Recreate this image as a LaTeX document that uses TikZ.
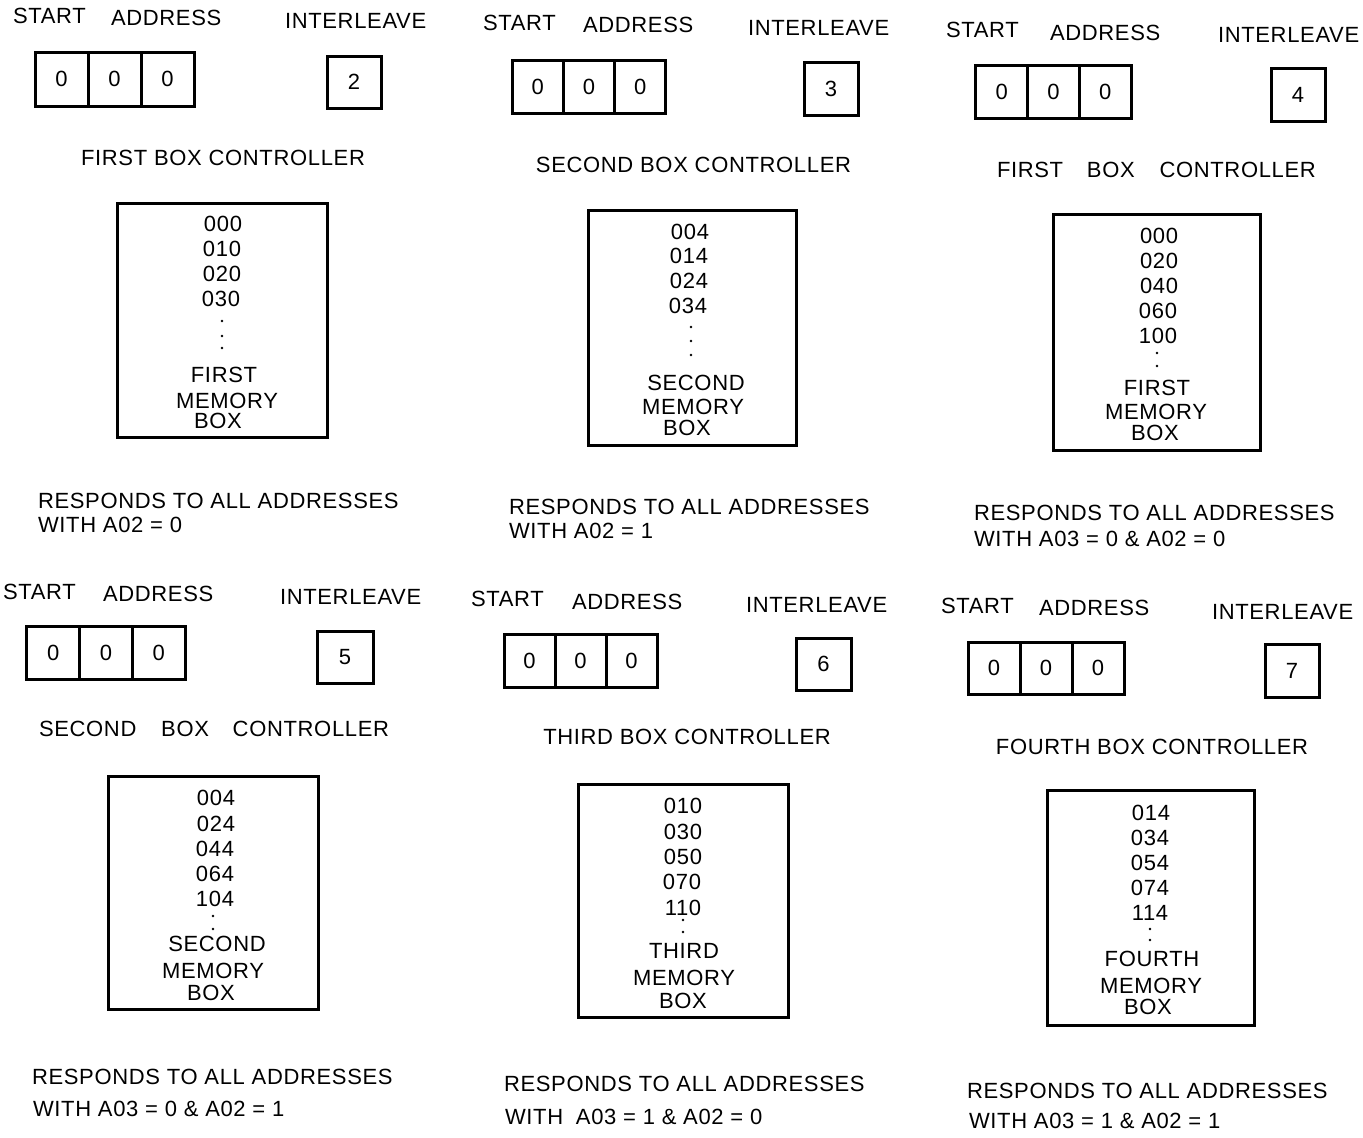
\documentclass[tikz,border=0pt]{standalone}
\usepackage{fontspec}
\newfontfamily\labfont[LetterSpace=3]{Liberation Sans}
\begin{document}
\begin{tikzpicture}[x=1pt,y=-1pt,
  lbl/.style={inner sep=0pt, outer sep=0pt, font=\labfont\fontsize{22}{25}\selectfont, text height=15.75pt, text depth=0pt},
  lw/.style={lbl, anchor=west},
  cellbox/.style={draw, line width=3pt, inner sep=0pt, outer sep=0pt, font=\labfont\fontsize{22}{25}\selectfont, text height=15.75pt, text depth=0pt},
  membox/.style={draw, line width=3pt, inner sep=0pt, outer sep=0pt},
  dotmark/.style={fill=black}]
\useasboundingbox (0,0) rectangle (1363,1138);

% ---------------- Panel 1 ----------------
\node[lw] (p1start) at (13,16) {START};
\node[lw] (p1addr) at (111,18) {ADDRESS};
\node[lw] (p1intl) at (285,21) {INTERLEAVE};
\node[cellbox, minimum width=53pt, minimum height=54pt] (p1c1) at (61.5,79) {0};
\node[cellbox, minimum width=53pt, minimum height=54pt] (p1c2) at (114.5,79) {0};
\node[cellbox, minimum width=53pt, minimum height=54pt] (p1c3) at (167.5,79) {0};
\node[cellbox, minimum width=54pt, minimum height=52pt] (p1ib) at (354,82) {2};
\node[lbl] (p1ctl) at (223,158) {FIRST BOX CONTROLLER};
\node[membox, minimum width=210pt, minimum height=234pt] (p1mem) at (222,320) {};
\node[lbl] (p1a) at (223,224) {000};
\node[lbl] (p1b) at (222,249) {010};
\node[lbl] (p1c) at (222,274) {020};
\node[lbl] (p1d) at (221,299) {030};
\fill[dotmark] (222,321) circle (1.4) (222,336) circle (1.4) (222,348) circle (1.4);
\node[lbl] (p1n1) at (224,375) {FIRST};
\node[lbl] (p1n2) at (227,401) {MEMORY};
\node[lbl] (p1n3) at (218,421) {BOX};
\node[lw] (p1resp) at (38,501) {RESPONDS TO ALL ADDRESSES};
\node[lw] (p1with) at (38,525) {WITH A02 = 0};

% ---------------- Panel 2 ----------------
\node[lw] (p2start) at (483,23) {START};
\node[lw] (p2addr) at (583,25) {ADDRESS};
\node[lw] (p2intl) at (748,28) {INTERLEAVE};
\node[cellbox, minimum width=51.3pt, minimum height=53pt] (p2c1) at (537.7,86.5) {0};
\node[cellbox, minimum width=51.3pt, minimum height=53pt] (p2c2) at (589,86.5) {0};
\node[cellbox, minimum width=51.3pt, minimum height=53pt] (p2c3) at (640.3,86.5) {0};
\node[cellbox, minimum width=54pt, minimum height=53pt] (p2ib) at (831,88.5) {3};
\node[lbl] (p2ctl) at (693.5,165) {SECOND BOX CONTROLLER};
\node[membox, minimum width=208pt, minimum height=235pt] (p2mem) at (692,327.5) {};
\node[lbl] (p2a) at (690,232) {004};
\node[lbl] (p2b) at (689,256) {014};
\node[lbl] (p2c) at (689,281) {024};
\node[lbl] (p2d) at (688,306) {034};
\fill[dotmark] (691,327) circle (1.4) (691,341) circle (1.4) (691,355) circle (1.4);
\node[lbl] (p2n1) at (696,383) {SECOND};
\node[lbl] (p2n2) at (693,407) {MEMORY};
\node[lbl] (p2n3) at (687,428) {BOX};
\node[lw] (p2resp) at (509,507) {RESPONDS TO ALL ADDRESSES};
\node[lw] (p2with) at (509,531) {WITH A02 = 1};

% ---------------- Panel 3 ----------------
\node[lw] (p3start) at (946,30) {START};
\node[lw] (p3addr) at (1050,33) {ADDRESS};
\node[lw] (p3intl) at (1218,35) {INTERLEAVE};
\node[cellbox, minimum width=51.7pt, minimum height=53pt] (p3c1) at (1001.8,91.5) {0};
\node[cellbox, minimum width=51.7pt, minimum height=53pt] (p3c2) at (1053.5,91.5) {0};
\node[cellbox, minimum width=51.7pt, minimum height=53pt] (p3c3) at (1105.2,91.5) {0};
\node[cellbox, minimum width=54pt, minimum height=53pt] (p3ib) at (1298,94.5) {4};
\node[lw] (p3ctl) at (997,170) {FIRST\hspace{17pt} BOX\hspace{18pt} CONTROLLER};
\node[membox, minimum width=207pt, minimum height=236pt] (p3mem) at (1156.5,332) {};
\node[lbl] (p3a) at (1159,236) {000};
\node[lbl] (p3b) at (1159,261) {020};
\node[lbl] (p3c) at (1159,286) {040};
\node[lbl] (p3d) at (1158,311) {060};
\node[lbl] (p3e) at (1158,336) {100};
\fill[dotmark] (1157,353) circle (1.4) (1157,366) circle (1.4);
\node[lbl] (p3n1) at (1157,388) {FIRST};
\node[lbl] (p3n2) at (1156,412) {MEMORY};
\node[lbl] (p3n3) at (1155,433) {BOX};
\node[lw] (p3resp) at (974,513) {RESPONDS TO ALL ADDRESSES};
\node[lw] (p3with) at (974,539) {WITH A03 = 0 \& A02 = 0};

% ---------------- Panel 4 ----------------
\node[lw] (p4start) at (3,592) {START};
\node[lw] (p4addr) at (103,594) {ADDRESS};
\node[lw] (p4intl) at (280,597) {INTERLEAVE};
\node[cellbox, minimum width=52.7pt, minimum height=53pt] (p4c1) at (53.3,652.5) {0};
\node[cellbox, minimum width=52.7pt, minimum height=53pt] (p4c2) at (106,652.5) {0};
\node[cellbox, minimum width=52.7pt, minimum height=53pt] (p4c3) at (158.7,652.5) {0};
\node[cellbox, minimum width=56pt, minimum height=52pt] (p4ib) at (345,657) {5};
\node[lw] (p4ctl) at (39,729) {SECOND\hspace{18pt} BOX\hspace{17pt} CONTROLLER};
\node[membox, minimum width=210pt, minimum height=233pt] (p4mem) at (213,892.5) {};
\node[lbl] (p4a) at (216,798) {004};
\node[lbl] (p4b) at (216,824) {024};
\node[lbl] (p4c) at (215,849) {044};
\node[lbl] (p4d) at (215,874) {064};
\node[lbl] (p4e) at (215,899) {104};
\fill[dotmark] (213,916) circle (1.4) (213,929) circle (1.4);
\node[lbl] (p4n1) at (217,944) {SECOND};
\node[lbl] (p4n2) at (213,971) {MEMORY};
\node[lbl] (p4n3) at (211,993) {BOX};
\node[lw] (p4resp) at (32,1077) {RESPONDS TO ALL ADDRESSES};
\node[lw] (p4with) at (33,1109) {WITH A03 = 0 \& A02 = 1};

% ---------------- Panel 5 ----------------
\node[lw] (p5start) at (471,599) {START};
\node[lw] (p5addr) at (572,602) {ADDRESS};
\node[lw] (p5intl) at (746,605) {INTERLEAVE};
\node[cellbox, minimum width=51pt, minimum height=53pt] (p5c1) at (529.5,660.5) {0};
\node[cellbox, minimum width=51pt, minimum height=53pt] (p5c2) at (580.5,660.5) {0};
\node[cellbox, minimum width=51pt, minimum height=53pt] (p5c3) at (631.5,660.5) {0};
\node[cellbox, minimum width=55pt, minimum height=52pt] (p5ib) at (823.5,664) {6};
\node[lbl] (p5ctl) at (687,737) {THIRD BOX CONTROLLER};
\node[membox, minimum width=210pt, minimum height=233pt] (p5mem) at (683,900.5) {};
\node[lbl] (p5a) at (683,806) {010};
\node[lbl] (p5b) at (683,832) {030};
\node[lbl] (p5c) at (683,857) {050};
\node[lbl] (p5d) at (682,882) {070};
\node[lbl] (p5e) at (683,908) {110};
\fill[dotmark] (683,920) circle (1.4) (683,932) circle (1.4);
\node[lbl] (p5n1) at (684,951) {THIRD};
\node[lbl] (p5n2) at (684,978) {MEMORY};
\node[lbl] (p5n3) at (683,1001) {BOX};
\node[lw] (p5resp) at (504,1084) {RESPONDS TO ALL ADDRESSES};
\node[lw] (p5with) at (505,1117) {WITH\hspace{6pt} A03 = 1 \& A02 = 0};

% ---------------- Panel 6 ----------------
\node[lw] (p6start) at (941,606) {START};
\node[lw] (p6addr) at (1039,608) {ADDRESS};
\node[lw] (p6intl) at (1212,612) {INTERLEAVE};
\node[cellbox, minimum width=52pt, minimum height=52pt] (p6c1) at (994,668) {0};
\node[cellbox, minimum width=52pt, minimum height=52pt] (p6c2) at (1046,668) {0};
\node[cellbox, minimum width=52pt, minimum height=52pt] (p6c3) at (1098,668) {0};
\node[cellbox, minimum width=54pt, minimum height=53pt] (p6ib) at (1292,670.5) {7};
\node[lbl] (p6ctl) at (1152,747) {FOURTH BOX CONTROLLER};
\node[membox, minimum width=207pt, minimum height=235pt] (p6mem) at (1150.5,907.5) {};
\node[lbl] (p6a) at (1151,813) {014};
\node[lbl] (p6b) at (1150,838) {034};
\node[lbl] (p6c) at (1150,863) {054};
\node[lbl] (p6d) at (1150,888) {074};
\node[lbl] (p6e) at (1150,913) {114};
\fill[dotmark] (1150,929) circle (1.4) (1150,940) circle (1.4);
\node[lbl] (p6n1) at (1152,959) {FOURTH};
\node[lbl] (p6n2) at (1151,986) {MEMORY};
\node[lbl] (p6n3) at (1148,1007) {BOX};
\node[lw] (p6resp) at (967,1091) {RESPONDS TO ALL ADDRESSES};
\node[lw] (p6with) at (969,1121) {WITH A03 = 1 \& A02 = 1};
\end{tikzpicture}
\end{document}
